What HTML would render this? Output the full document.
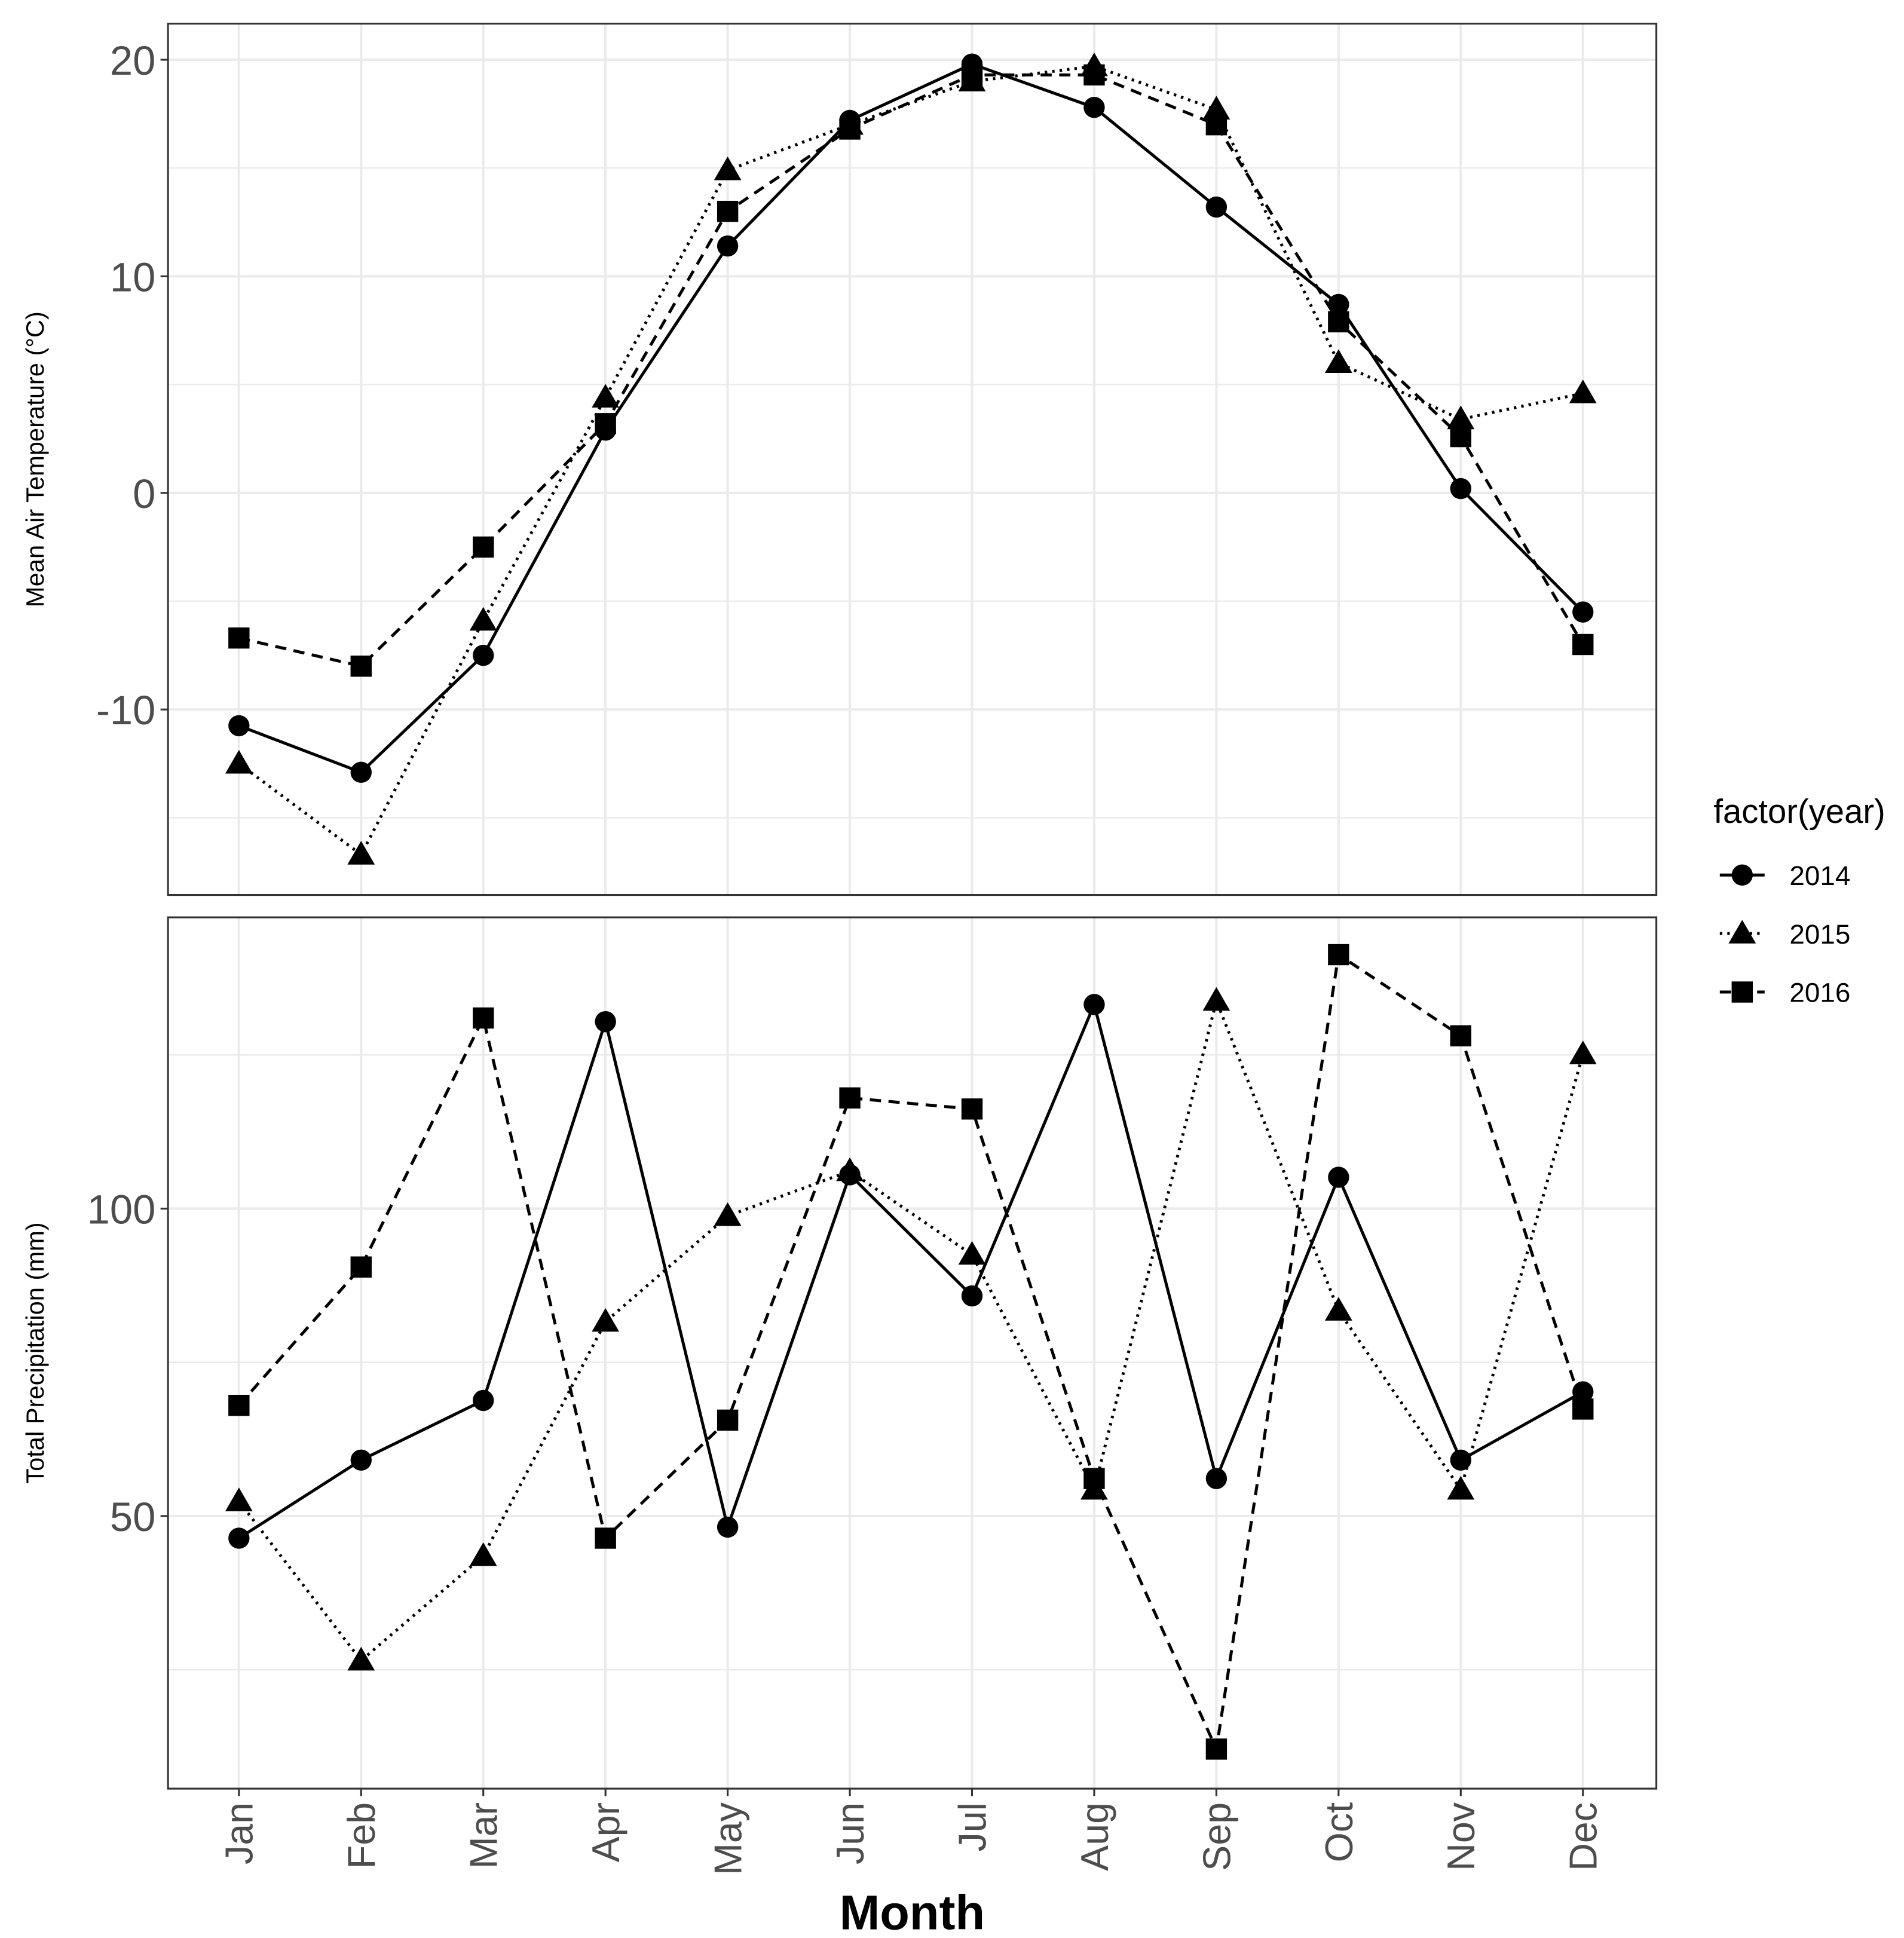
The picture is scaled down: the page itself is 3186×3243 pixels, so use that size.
<!DOCTYPE html>
<html><head><meta charset="utf-8"><style>html,body{margin:0;padding:0;background:#fff}svg{display:block}</style></head>
<body>
<svg id="chart" width="3186" height="3243" viewBox="0 0 1530 1557" preserveAspectRatio="none" xmlns="http://www.w3.org/2000/svg" font-family="Liberation Sans, sans-serif">
</svg>
<script>
const months = ["Jan","Feb","Mar","Apr","May","Jun","Jul","Aug","Sep","Oct","Nov","Dec"];
const years = ["2014","2015","2016"];
const temp2014 = [-10.75,-12.9,-7.5,2.9,11.4,17.2,19.8,17.8,13.2,8.7,0.2,-5.5];
const temp2015 = [-12.5,-16.7,-5.9,4.4,14.9,17.0,19.0,19.7,17.7,6.0,3.4,4.6];
const temp2016 = [-6.7,-8.0,-2.5,3.2,13.0,16.8,19.3,19.3,17.0,7.9,2.6,-7.0];
const prec2014 = [46.4,59.1,68.8,130.4,48.2,105.5,85.8,133.2,56.1,105.1,59.1,70.2];
const prec2015 = [52.4,26.5,43.5,81.6,98.8,106.1,92.5,54.3,133.8,83.4,54.3,125.1];
const prec2016 = [68.0,90.5,131.0,46.4,65.6,118.0,116.2,56.1,12.1,141.3,128.1,67.4];
const tempTicks = [-10,0,10,20];
const tempMinor = [-15,-5,5,15];
const precTicks = [50,100];
const precMinor = [25,75,125];

const NS="http://www.w3.org/2000/svg";
const svg=document.getElementById('chart');
function mk(tag,attrs,parent){const e=document.createElementNS(NS,tag);for(const k in attrs)e.setAttribute(k,attrs[k]);(parent||svg).appendChild(e);return e;}
const L=135,R=1331;
const xS=i=>192+i*(1272-192)/11;
const panels=[
 {top:19,bot:719,y:v=>396-v*17.4,ticks:tempTicks,minor:tempMinor,data:[temp2014,temp2015,temp2016],title:"Mean Air Temperature (°C)",name:"temperature"},
 {top:737,bot:1437,y:v=>971-(v-100)*4.94,ticks:precTicks,minor:precMinor,data:[prec2014,prec2015,prec2016],title:"Total Precipitation (mm)",name:"precipitation"}
];
const dashes=["none","2,4","9,6"];
function marker(g,k,x,y){
  if(k===0) return mk('circle',{cx:x,cy:y,r:8.5,fill:'#000'},g);
  if(k===1) return mk('polygon',{points:`${x},${y-11} ${x+11},${y+8} ${x-11},${y+8}`,fill:'#000'},g);
  return mk('rect',{x:x-8.5,y:y-8.5,width:17,height:17,fill:'#000'},g);
}
panels.forEach(p=>{
  const g=mk('g',{});
  
  
  p.minor.forEach(v=>mk('line',{x1:L,x2:R,y1:p.y(v),y2:p.y(v),stroke:'#ebebeb','stroke-width':1.2},g));
  months.forEach((m,i)=>mk('line',{x1:xS(i),x2:xS(i),y1:p.top,y2:p.bot,stroke:'#ebebeb','stroke-width':2},g));
  p.ticks.forEach(v=>{
    mk('line',{x1:L,x2:R,y1:p.y(v),y2:p.y(v),stroke:'#ebebeb','stroke-width':2},g);
    mk('line',{x1:L-6,x2:L,y1:p.y(v),y2:p.y(v),stroke:'#333','stroke-width':1.5},g);
    const t=mk('text',{x:L-10,y:p.y(v)+12,'text-anchor':'end','font-size':33,fill:'#4d4d4d'},g);
    t.textContent=v;
    
    
  });
  p.data.forEach((arr,k)=>{
    const s=mk('g',{},g);
    
    
    const pts=arr.map((v,i)=>xS(i)+','+p.y(v)).join(' ');
    const a={points:pts,fill:'none',stroke:'#000','stroke-width':2.4};
    if(dashes[k]!=="none")a['stroke-dasharray']=dashes[k];
    mk('polyline',a,s);
    arr.forEach((v,i)=>{const m=marker(s,k,xS(i),p.y(v));
      
      });
  });
  mk('rect',{x:L,y:p.top,width:R-L,height:p.bot-p.top,fill:'none',stroke:'#333','stroke-width':1.5},g);
  const cy=(p.top+p.bot)/2;
  const tt=mk('text',{x:0,y:0,transform:`translate(35,${cy}) rotate(-90)`,'text-anchor':'middle','font-size':20,fill:'#000'},g);
  tt.textContent=p.title;
  
  
});
months.forEach((m,i)=>{
  mk('line',{x1:xS(i),x2:xS(i),y1:1437,y2:1443,stroke:'#333','stroke-width':1.5});
  const t=mk('text',{x:0,y:0,transform:`translate(${xS(i)+11},1448) rotate(-90)`,'text-anchor':'end','font-size':31,fill:'#4d4d4d'});
  t.textContent=m;
  
  
});
const xt=mk('text',{x:733,y:1550,'text-anchor':'middle','font-size':39,'font-weight':'bold',fill:'#000'});
xt.textContent="Month";


const lg=mk('g',{});


const lt=mk('text',{x:1377,y:661,'font-size':27,fill:'#000'},lg);
lt.textContent="factor(year)";


years.forEach((yr,k)=>{
  const cy=703+k*47;
  const e=mk('g',{},lg);
  
  
  const a={x1:1382,x2:1418,y1:cy,y2:cy,stroke:'#000','stroke-width':2.4};
  if(dashes[k]!=="none")a['stroke-dasharray']=dashes[k];
  mk('line',a,e);
  marker(e,k,1400,cy);
  const t=mk('text',{x:1438,y:cy+8,'font-size':22,fill:'#000'},e);
  t.textContent=yr;
});
</script>
</body></html>
